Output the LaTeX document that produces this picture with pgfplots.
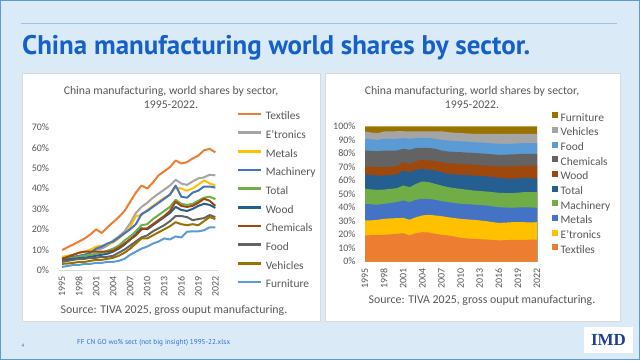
\documentclass[border=0pt]{standalone}
\usepackage{pgfplots}
\pgfplotsset{compat=1.18}
\usepackage{pgfplotstable}
\usepackage{fontspec}
\setmainfont{Carlito}
\newfontfamily\titlefont{PT Sans}
\newfontfamily\logofont{Liberation Serif}
\newfontfamily\footfont{PT Sans}

\definecolor{slidebg}{HTML}{DAEAF6}
\definecolor{slideedge}{HTML}{5B9BD5}
\definecolor{rulecol}{HTML}{9DC3E6}
\definecolor{titleblue}{HTML}{1560C9}
\definecolor{panelgray}{HTML}{D9D9D9}
\definecolor{txtgray}{HTML}{595959}
\definecolor{axgray}{HTML}{D9D9D9}
\definecolor{footblue}{HTML}{2F6FD0}
\definecolor{imdblue}{HTML}{1B3F9A}

\definecolor{cOrange}{HTML}{ED7D31}
\definecolor{cGray}{HTML}{A5A5A5}
\definecolor{cGold}{HTML}{FFC000}
\definecolor{cBlue}{HTML}{4472C4}
\definecolor{cGreen}{HTML}{70AD47}
\definecolor{cDBlue}{HTML}{255E91}
\definecolor{cBrown}{HTML}{9E480E}
\definecolor{cDGray}{HTML}{636363}
\definecolor{cDGold}{HTML}{997300}
\definecolor{cLBlue}{HTML}{5B9BD5}

\pgfplotstableread{
Year Tex Etr Met Mach Tot Wood Chem Food Veh Furn
1995 9.8 5.0 6.5 5.5 5.5 5.0 5.5 4.0 3.0 1.5
1996 11.2 5.5 7.0 6.0 5.8 5.2 6.5 4.5 3.2 2.0
1997 12.6 6.0 7.5 6.5 6.0 5.5 7.5 5.0 3.5 2.5
1998 14.0 6.5 8.5 7.0 6.5 5.8 8.5 5.5 4.0 2.5
1999 15.5 7.5 9.0 7.5 7.0 6.0 9.0 5.5 4.0 3.0
2000 17.5 8.5 10.0 8.5 7.5 6.5 9.0 6.0 4.5 3.0
2001 20.0 10.0 11.5 10.5 8.0 7.0 9.0 6.0 5.0 3.5
2002 18.2 10.5 12.0 11.5 8.5 7.5 9.0 6.5 5.0 3.5
2003 21.0 12.0 12.5 13.0 9.5 8.0 9.0 6.5 5.5 4.0
2004 23.5 14.5 13.5 14.0 10.5 9.0 9.5 7.0 6.0 4.0
2005 26.0 16.5 15.5 16.0 12.0 10.5 11.0 8.5 7.0 4.5
2006 29.0 19.0 18.0 18.0 14.5 12.5 13.0 10.0 8.5 5.5
2007 33.5 23.0 21.0 20.0 16.5 15.0 15.0 12.0 10.5 7.5
2008 38.0 28.0 26.5 22.5 19.0 17.5 17.0 14.0 13.0 9.0
2009 41.5 31.0 27.0 27.5 22.0 20.5 20.0 16.0 15.5 10.5
2010 40.0 33.0 29.5 29.0 22.5 20.0 20.5 17.0 15.5 11.5
2011 43.0 35.5 31.5 31.0 25.0 22.0 22.5 19.0 17.0 13.0
2012 46.5 37.5 33.5 33.0 27.0 24.0 24.5 20.5 18.5 14.0
2013 48.5 39.5 35.5 35.0 29.0 26.0 26.5 22.0 20.0 15.5
2014 50.5 41.5 37.0 37.0 31.0 28.0 29.0 24.0 21.5 15.0
2015 53.8 44.3 40.5 41.5 34.5 31.0 33.5 26.5 23.5 16.5
2016 52.3 42.5 40.0 36.0 32.5 29.5 31.5 26.5 22.5 16.0
2017 53.0 41.8 39.0 35.5 32.0 29.0 31.0 26.0 22.0 18.8
2018 54.8 43.5 40.0 38.0 32.5 30.0 31.5 24.5 22.5 19.0
2019 56.2 45.0 42.0 39.0 34.0 31.5 33.0 25.0 22.0 19.0
2020 58.8 45.5 44.0 41.0 35.5 32.5 35.0 25.5 24.0 19.5
2021 59.5 46.8 42.5 41.0 36.0 32.0 34.0 27.0 26.0 21.0
2022 57.8 46.5 41.5 40.5 34.8 30.5 31.5 26.0 25.0 21.0
}\leftdata

% cumulative tops of the 100% stacked areas (Textiles ... Furniture)
\pgfplotstableread{
Year B1 B2 B3 B4 B5 B6 B7 B8 B9 T
1995 19.3 30.4 42.7 53.8 64.4 70.4 82.2 90.9 96.3 100
1996 19.5 30.5 42.3 53.4 64.0 70.1 82.0 90.5 95.5 100
1997 19.6 30.9 42.0 53.1 63.7 69.9 81.7 90.1 95.1 100
1998 19.8 31.6 42.7 53.3 63.7 69.9 82.2 90.9 96.3 100
1999 20.1 31.9 43.3 53.8 64.0 70.2 82.2 90.9 96.4 100
2000 20.5 32.1 44.0 54.3 64.4 70.6 82.2 90.9 96.5 100
2001 21.0 32.3 45.2 56.3 67.4 73.6 83.5 91.4 96.5 100
2002 19.3 30.9 44.0 55.1 66.2 72.3 82.7 90.9 96.3 100
2003 21.0 32.8 45.7 57.5 67.9 74.3 84.0 91.4 96.3 100
2004 21.7 34.1 46.4 59.3 68.6 75.3 84.2 91.6 96.3 100
2005 21.5 34.6 46.4 58.8 67.9 74.8 84.2 91.6 96.3 100
2006 20.5 34.1 45.7 57.5 67.4 74.3 83.5 90.9 96.3 100
2007 19.8 33.6 44.7 56.3 66.2 73.6 82.2 90.1 96.5 100
2008 19.3 32.8 44.0 55.1 64.9 72.8 81.5 89.6 95.8 100
2009 18.5 32.2 43.3 54.4 64.5 72.5 81.2 89.3 95.4 100
2010 17.5 31.6 42.7 53.8 64.2 72.3 81.0 89.1 95.1 100
2011 17.1 31.2 42.4 53.2 64.0 72.0 80.7 88.8 94.9 100
2012 16.8 30.9 42.2 52.6 63.7 71.6 80.5 88.4 94.6 100
2013 16.5 30.4 41.8 52.2 63.3 71.3 80.1 88.1 94.6 100
2014 16.3 29.9 41.5 51.9 63.0 71.1 79.8 87.9 94.6 100
2015 16.0 29.2 40.8 51.4 62.5 70.7 79.4 87.5 94.6 100
2016 15.6 28.6 40.2 50.9 62.0 70.4 79.0 87.2 94.6 100
2017 15.8 28.8 40.0 50.7 61.6 70.4 79.2 87.2 94.6 100
2018 16.0 29.1 39.8 50.6 61.2 70.4 79.3 87.2 94.6 100
2019 16.1 29.1 40.0 51.0 61.6 70.8 79.5 87.5 94.6 100
2020 16.0 29.1 40.2 51.4 62.0 71.1 79.8 87.7 94.6 100
2021 16.2 29.0 40.0 51.4 61.6 71.1 79.8 87.7 94.6 100
2022 16.3 29.1 39.8 51.4 61.2 71.1 79.8 87.7 94.6 100
}\rightdata

\begin{document}
\begin{tikzpicture}[x=1bp,y=1bp]
% slide
\fill[slidebg] (0,0) rectangle (640,360);
\draw[slideedge,line width=1.2bp] (0.6,0.6) rectangle (639.4,359.4);
\draw[rulecol,line width=0.8bp] (21,336.5) -- (617,336.5);
\node[anchor=base west,inner sep=0pt,text=titleblue] at (22,306)
  {\resizebox{508bp}{!}{\titlefont\bfseries China manufacturing world shares by sector.}};
% panels
\filldraw[fill=white,draw=panelgray,line width=0.6bp] (22.5,39) rectangle (320.5,287);
\filldraw[fill=white,draw=panelgray,line width=0.6bp] (325,39) rectangle (620,287);
% chart titles
\node[align=center,text=txtgray,font=\fontsize{11.8}{13.6}\selectfont] at (171,262.5)
  {China manufacturing, world shares by sector,\\1995-2022.};
\node[align=center,text=txtgray,font=\fontsize{11.8}{13.6}\selectfont] at (472,262.5)
  {China manufacturing, world shares by sector,\\1995-2022.};
% sources
\node[text=txtgray,font=\fontsize{11.9}{13}\selectfont] at (174,50)
  {Source: TIVA 2025, gross ouput manufacturing.};
\node[text=txtgray,font=\fontsize{11.9}{13}\selectfont] at (482,60)
  {Source: TIVA 2025, gross ouput manufacturing.};
% footer
\node[anchor=west,inner sep=0pt,text=footblue] at (77,17)
  {\resizebox{153bp}{!}{\footfont FF CN GO wo\% sect (not big insight) 1995-22.xlsx}};
\node[text=footblue,font=\footfont\fontsize{5}{6}\selectfont] at (23,14) {4};
\fill[white] (584,7) rectangle (633,33);
\node[text=imdblue,font=\logofont\bfseries\fontsize{17}{17}\selectfont] at (608.5,20) {IMD};

% ---------- left chart ----------
\begin{axis}[
  at={(59.2bp,90bp)}, anchor=south west, scale only axis,
  width=159bp, height=142.5bp,
  xmin=1994.5, xmax=2022.5, ymin=0, ymax=70,
  axis x line*=bottom, axis y line*=left,
  x axis line style={draw=axgray,line width=0.7bp,-},
  y axis line style={draw=none},
  xtick={1995,1998,2001,2004,2007,2010,2013,2016,2019,2022},
  xticklabels={1995,1998,2001,2004,2007,2010,2013,2016,2019,2022},
  ytick={0,10,20,30,40,50,60,70},
  yticklabels={0\%,10\%,20\%,30\%,40\%,50\%,60\%,70\%},
  major tick length=0pt, tick style={draw=none},
  tick label style={font=\fontsize{10}{10}\selectfont,text=txtgray,inner sep=0pt},
  x tick label style={rotate=90,anchor=east},
  xticklabel shift=6bp, yticklabel shift=10bp,
  clip=false,
  legend cell align=left,
  legend style={at={(1.118,1.109)},anchor=north west,draw=none,fill=none,
    inner sep=0pt,font=\fontsize{11.5}{12}\selectfont,text=txtgray,
    row sep=9.17bp,
    nodes={inner sep=0pt,text height=7.5bp,text depth=2bp},
    /tikz/every odd column/.append style={column sep=3bp}},
  legend image code/.code={\draw[#1,line width=2.6bp] (0bp,3bp) -- (23bp,3bp);},
  every axis plot/.append style={line width=2bp,line join=round},
]
\addplot[cOrange] table[x=Year,y=Tex]{\leftdata};
\addplot[cGray]   table[x=Year,y=Etr]{\leftdata};
\addplot[cGold]   table[x=Year,y=Met]{\leftdata};
\addplot[cBlue]   table[x=Year,y=Mach]{\leftdata};
\addplot[cGreen]  table[x=Year,y=Tot]{\leftdata};
\addplot[cDBlue]  table[x=Year,y=Wood]{\leftdata};
\addplot[cBrown]  table[x=Year,y=Chem]{\leftdata};
\addplot[cDGray]  table[x=Year,y=Food]{\leftdata};
\addplot[cDGold]  table[x=Year,y=Veh]{\leftdata};
\addplot[cLBlue]  table[x=Year,y=Furn]{\leftdata};
\legend{Textiles,E'tronics,Metals,Machinery,Total,Wood,Chemicals,Food,Vehicles,Furniture}
\end{axis}

% ---------- right chart ----------
\begin{axis}[
  at={(365bp,98.5bp)}, anchor=south west, scale only axis,
  width=172bp, height=135bp,
  xmin=1995, xmax=2022, ymin=0, ymax=100,
  axis line style={draw=none},
  xtick={1995,1998,2001,2004,2007,2010,2013,2016,2019,2022},
  xticklabels={1995,1998,2001,2004,2007,2010,2013,2016,2019,2022},
  ytick={0,10,20,30,40,50,60,70,80,90,100},
  yticklabels={0\%,10\%,20\%,30\%,40\%,50\%,60\%,70\%,80\%,90\%,100\%},
  major tick length=0pt, tick style={draw=none},
  tick label style={font=\fontsize{10}{10}\selectfont,text=txtgray,inner sep=0pt},
  x tick label style={rotate=90,anchor=east},
  xticklabel shift=6.5bp, yticklabel shift=9.3bp,
  clip=false,
  legend cell align=left,
  legend style={at={(1.087,1.107)},anchor=north west,draw=none,fill=none,
    inner sep=0pt,font=\fontsize{11.5}{12}\selectfont,text=txtgray,
    row sep=3.94bp,
    nodes={inner sep=0pt,text height=7.5bp,text depth=2bp},
    /tikz/every odd column/.append style={column sep=2.5bp}},
  legend image code/.code={\fill[#1] (0bp,0bp) rectangle (6bp,6bp);},
]
\addplot[draw=none,fill=cDGold] table[x=Year,y=T]{\rightdata} \closedcycle;
\addplot[draw=none,fill=cGray]  table[x=Year,y=B9]{\rightdata} \closedcycle;
\addplot[draw=none,fill=cLBlue] table[x=Year,y=B8]{\rightdata} \closedcycle;
\addplot[draw=none,fill=cDGray] table[x=Year,y=B7]{\rightdata} \closedcycle;
\addplot[draw=none,fill=cBrown] table[x=Year,y=B6]{\rightdata} \closedcycle;
\addplot[draw=none,fill=cDBlue] table[x=Year,y=B5]{\rightdata} \closedcycle;
\addplot[draw=none,fill=cGreen] table[x=Year,y=B4]{\rightdata} \closedcycle;
\addplot[draw=none,fill=cBlue]  table[x=Year,y=B3]{\rightdata} \closedcycle;
\addplot[draw=none,fill=cGold]  table[x=Year,y=B2]{\rightdata} \closedcycle;
\addplot[draw=none,fill=cOrange] table[x=Year,y=B1]{\rightdata} \closedcycle;
\legend{Furniture,Vehicles,Food,Chemicals,Wood,Total,Machinery,Metals,E'tronics,Textiles}
\end{axis}
\end{tikzpicture}
\end{document}
